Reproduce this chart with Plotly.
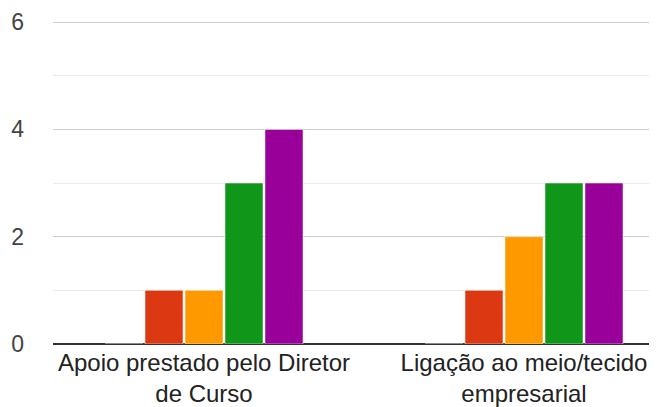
import plotly.graph_objects as go

categories = ["Apoio prestado pelo Diretor<br>de Curso", "Ligação ao meio/tecido<br>empresarial"]
series_names = ["1", "2", "3", "4", "5"]
series_values = [
    [0, 0],
    [1, 1],
    [1, 2],
    [3, 3],
    [4, 3],
]
colors = ["#3366cc", "#dc3912", "#ff9900", "#109618", "#990099"]
y_ticks = [0, 2, 4, 6]

fig = go.Figure()
for name, vals, c in zip(series_names, series_values, colors):
    fig.add_trace(go.Bar(
        x=[0, 1], y=vals, name=name,
        marker=dict(color=c, line=dict(color="rgba(255,255,255,0.5)", width=1)),
        hoverinfo="skip",
    ))

# page has 8px body margin; figure sized to fit the window
fig.update_layout(
    width=649, height=399,
    margin=dict(l=45, r=0, t=13, b=63),
    barmode="group", bargap=0.375, bargroupgap=0.05,
    showlegend=False,
    plot_bgcolor="white", paper_bgcolor="white",
    font=dict(family="Arial, Liberation Sans, sans-serif", size=24, color="#222222"),
)
fig.update_xaxes(
    range=[(53 - 204) / 320, (657 - 204) / 320],
    tickmode="array", tickvals=[0, 1], ticktext=categories,
    showgrid=False, zeroline=False, showline=False, ticks="",
    tickfont=dict(size=24, color="#222222"),
    ticklabelstandoff=2,
    automargin=False,
)
fig.update_yaxes(
    range=[0, 6.02], tickmode="array", tickvals=y_ticks,
    showgrid=True, gridcolor="#cccccc", gridwidth=1,
    minor=dict(tickvals=[1, 3, 5], showgrid=True, gridcolor="#ebebeb", gridwidth=1),
    zeroline=True, zerolinecolor="#333333", zerolinewidth=2,
    showline=False, ticks="",
    tickfont=dict(size=23, color="#444444"),
    ticklabelstandoff=28,
    automargin=False,
)
fig.write_html("out.html")
